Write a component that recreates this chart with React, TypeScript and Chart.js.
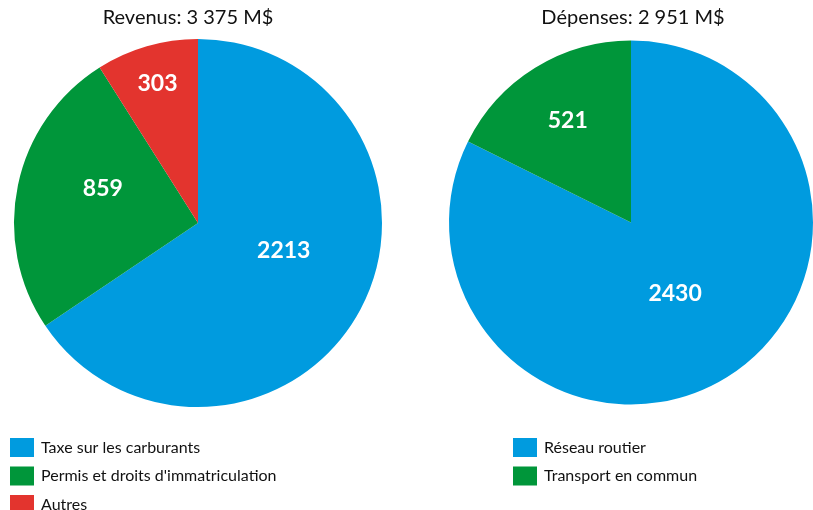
import React, { useEffect, useRef } from "react";
import { Chart, registerables } from "chart.js";

Chart.register(...registerables);

const revTitle = "Revenus: 3 375 M$";
const revLabels = ["Taxe sur les carburants", "Permis et droits d'immatriculation", "Autres"];
const revValues = [2213, 859, 303];

const depTitle = "Dépenses: 2 951 M$";
const depLabels = ["Réseau routier", "Transport en commun"];
const depValues = [2430, 521];

const colors = ["#009BDF", "#00963A", "#E3342E"];
const FONT = "Lato, 'Open Sans', sans-serif";

type PieProps = {
  title: string;
  labels: string[];
  values: number[];
  width: number;
  padding: { left: number; right: number; top: number; bottom: number };
  titleX: number;
  legendX: number;
  labelRadius: number[];
  labelAngleShift: number[];
};

function PieChart(props: PieProps) {
  const ref = useRef<HTMLCanvasElement | null>(null);
  useEffect(() => {
    if (!ref.current) return;
    const overlay = {
      id: "overlay",
      afterDatasetsDraw(chart: any) {
        const ctx = chart.ctx;
        const meta = chart.getDatasetMeta(0);
        ctx.save();
        ctx.fillStyle = "#ffffff";
        ctx.font = `bold 23px ${FONT}`;
        ctx.textAlign = "center";
        ctx.textBaseline = "middle";
        meta.data.forEach((arc: any, i: number) => {
          const p = arc.getProps(["x", "y", "startAngle", "endAngle", "outerRadius"], true);
          const mid = (p.startAngle + p.endAngle) / 2 + (props.labelAngleShift[i] || 0) * Math.PI / 180;
          const r = p.outerRadius * props.labelRadius[i];
          ctx.fillText(String(props.values[i]), p.x + Math.cos(mid) * r, p.y + Math.sin(mid) * r);
        });
        ctx.restore();
      },
      afterDraw(chart: any) {
        const ctx = chart.ctx;
        ctx.save();
        ctx.fillStyle = "#111111";
        ctx.font = `20px ${FONT}`;
        ctx.textAlign = "center";
        ctx.textBaseline = "middle";
        ctx.fillText(props.title, props.titleX, 18);
        ctx.font = `16px ${FONT}`;
        ctx.textAlign = "left";
        props.labels.forEach((lab, i) => {
          const cy = 447.5 + i * 28.5;
          ctx.fillStyle = colors[i];
          ctx.fillRect(props.legendX, cy - 9.5, 24, 19);
          ctx.fillStyle = "#111111";
          ctx.fillText(lab, props.legendX + 31, cy);
        });
        ctx.restore();
      },
    };
    const chart = new Chart(ref.current, {
      type: "pie",
      data: {
        labels: props.labels,
        datasets: [
          {
            data: props.values,
            backgroundColor: colors.slice(0, props.values.length),
            borderWidth: 0,
          },
        ],
      },
      options: {
        responsive: false,
        animation: false,
        layout: { padding: props.padding },
        plugins: {
          legend: { display: false },
          title: { display: false },
          tooltip: { enabled: false },
        },
      },
      plugins: [overlay],
    });
    return () => chart.destroy();
  }, []);
  return <canvas ref={ref} width={props.width} height={510} style={{ display: "block" }} />;
}

export default function App() {
  return (
    <div style={{ position: "fixed", left: 0, top: 0, width: 813, height: 510, background: "#fff", display: "flex" }}>
      <PieChart
        title={revTitle}
        labels={revLabels}
        values={revValues}
        width={406}
        padding={{ left: 14, right: 24, top: 39, bottom: 103 }}
        titleX={188}
        legendX={10}
        labelRadius={[0.49, 0.55, 0.79]}
        labelAngleShift={[-10, 8, 0]}
      />
      <PieChart
        title={depTitle}
        labels={depLabels}
        values={depValues}
        width={407}
        padding={{ left: 43, right: 0, top: 40, bottom: 105 }}
        titleX={227}
        legendX={107}
        labelRadius={[0.46, 0.66]}
        labelAngleShift={[0, 0]}
      />
    </div>
  );
}
